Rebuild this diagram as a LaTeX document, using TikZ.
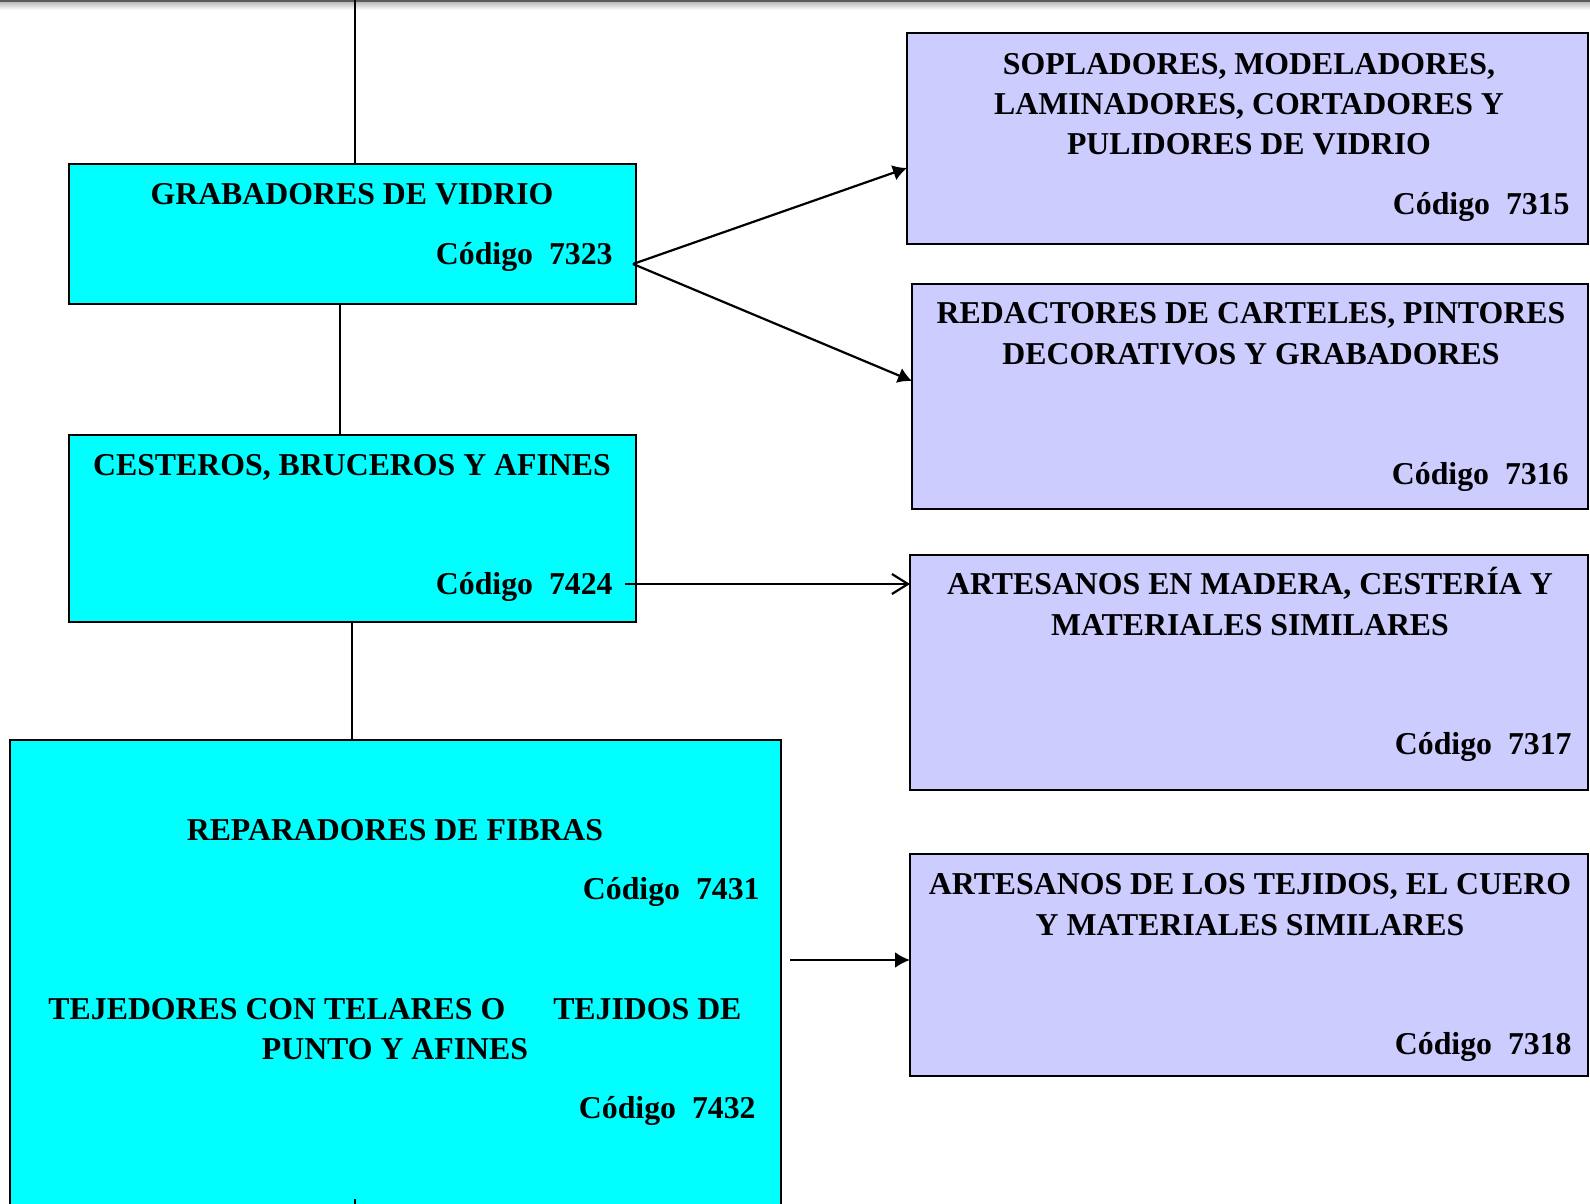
\documentclass[tikz,border=0pt]{standalone}
\usepackage{fontspec}
\setmainfont{Liberation Serif}
\usetikzlibrary{arrows.meta}
\definecolor{boxcyan}{HTML}{00FFFF}
\definecolor{boxlav}{HTML}{CCCCFF}
\begin{document}
\begin{tikzpicture}[x=0.5pt,y=-0.5pt,
  cyanbox/.style={draw=black, line width=0.9pt, fill=boxcyan, inner sep=0pt, outer sep=0pt},
  lavbox/.style={draw=black, line width=0.9pt, fill=boxlav, inner sep=0pt, outer sep=0pt},
  txt/.style={font=\fontsize{15.9}{20.3}\selectfont\bfseries, inner sep=0pt, anchor=base, yshift=-0.75pt},
  rtxt/.style={txt, anchor=base east},
  conn/.style={line width=1.1pt, draw=black}]
\clip (0,0) rectangle (1590,1204);
\fill[white] (0,0) rectangle (1590,1204);
\fill[black!65] (0,0) rectangle (1590,2.5);
\shade[top color=black!25, bottom color=white] (0,2.5) rectangle (1590,10);

% boxes
\node[cyanbox, minimum width=283.5pt, minimum height=70pt] (G) at (352.5,234) {};
\node[cyanbox, minimum width=283.5pt, minimum height=93.5pt] (C) at (352.5,528.5) {};
\node[cyanbox, minimum width=385.5pt, minimum height=237.5pt] (R) at (395.5,977.5) {};
\node[lavbox, minimum width=340.5pt, minimum height=105.5pt] (B1) at (1247.5,138.5) {};
\node[lavbox, minimum width=338pt, minimum height=112.5pt] (B2) at (1250,396.5) {};
\node[lavbox, minimum width=339pt, minimum height=117.5pt] (B3) at (1249,672.5) {};
\node[lavbox, minimum width=339pt, minimum height=111pt] (B4) at (1249,965) {};

% texts
\node[txt] (g1) at (352,203) {GRABADORES DE VIDRIO};
\node[rtxt] (g2) at (613,263) {Código\ \ 7323};
\node[txt] (c1) at (352,474) {CESTEROS, BRUCEROS Y AFINES};
\node[rtxt] (c2) at (613,593) {Código\ \ 7424};
\node[txt] (r1) at (395,839) {REPARADORES DE FIBRAS};
\node[rtxt] (r2) at (760,898) {Código\ \ 7431};
\node[txt] (r3) at (395,1018) {TEJEDORES CON TELARES O\hspace{24pt}TEJIDOS DE};
\node[txt] (r4) at (395,1058) {PUNTO Y AFINES};
\node[rtxt] (r5) at (756,1117) {Código\ \ 7432};

\node[txt] (b11) at (1249,73) {SOPLADORES, MODELADORES,};
\node[txt] (b12) at (1249,113) {LAMINADORES, CORTADORES Y};
\node[txt] (b13) at (1249,153) {PULIDORES DE VIDRIO};
\node[rtxt] (b14) at (1570,213) {Código\ \ 7315};

\node[txt] (b21) at (1251,322) {REDACTORES DE CARTELES, PINTORES};
\node[txt] (b22) at (1251,363) {DECORATIVOS Y GRABADORES};
\node[rtxt] (b23) at (1569,483) {Código\ \ 7316};

\node[txt] (b31) at (1250,593) {ARTESANOS EN MADERA, CESTERÍA Y};
\node[txt] (b32) at (1250,634) {MATERIALES SIMILARES};
\node[rtxt] (b33) at (1572,753) {Código\ \ 7317};

\node[txt] (b41) at (1250,893) {ARTESANOS DE LOS TEJIDOS, EL CUERO};
\node[txt] (b42) at (1250,934) {Y MATERIALES SIMILARES};
\node[rtxt] (b43) at (1572,1053) {Código\ \ 7318};

% connector anchors
\coordinate (topend) at (355,0);
\coordinate (gc) at (340,0);
\coordinate (cr) at (352,0);
\coordinate (ga) at (633,264);
\coordinate (y1) at (0,168);
\coordinate (y2) at (0,381);
\coordinate (ca) at (625,584);
\coordinate (ra) at (790,960);
\coordinate (tick) at (355,1199);

\draw[conn] (topend) -- (G.north -| topend);
\draw[conn] (G.south -| gc) -- (C.north -| gc);
\draw[conn] (C.south -| cr) -- (R.north -| cr);
\draw[conn, -{Latex[length=7pt,width=8pt]}] (ga) -- (B1.west |- y1);
\draw[conn, -{Latex[length=7pt,width=8pt]}] (ga) -- (B2.west |- y2);
\draw[conn, -{Straight Barb[length=8pt,width=10pt,line width=1.1pt]}] (ca) -- (B3.west |- ca);
\draw[conn, -{Latex[length=7.5pt,width=8pt]}] (ra) -- (B4.west |- ra);
\draw[conn] (tick) -- (R.south -| tick);
\end{tikzpicture}
\end{document}
